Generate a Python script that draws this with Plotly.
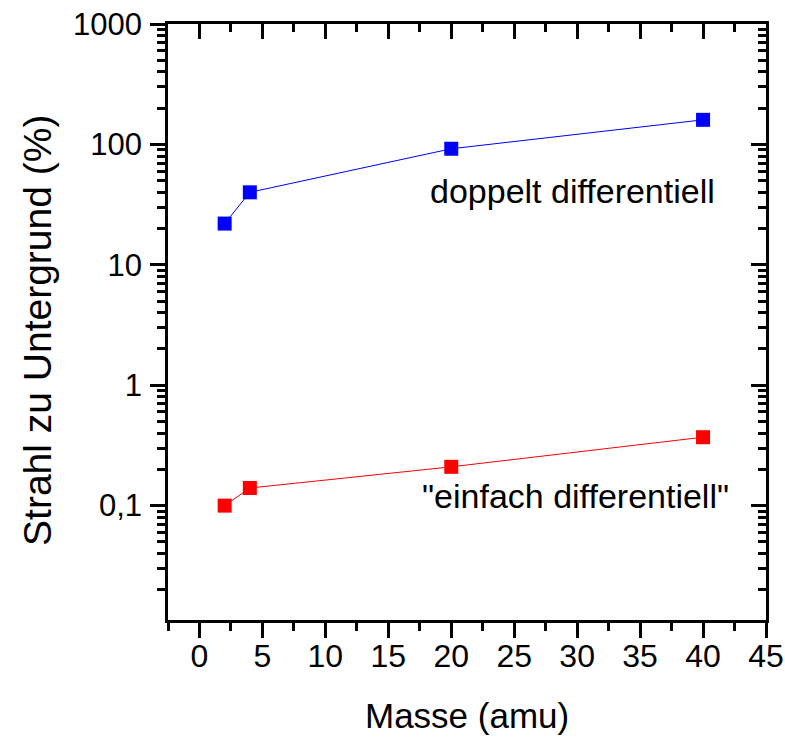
import plotly.graph_objects as go

# Beam-to-background ratio vs. mass
masse = [2, 4, 20, 40]
doppelt = [22, 40, 92, 160]          # doppelt differentiell (%)
einfach = [0.10, 0.14, 0.21, 0.37]   # "einfach differentiell" (%)

x_ticks = [0, 5, 10, 15, 20, 25, 30, 35, 40, 45]
y_ticks = [0.1, 1, 10, 100, 1000]
y_ticklabels = ["0,1", "1", "10", "100", "1000"]

FONT = "Liberation Sans, Arial, sans-serif"
X_RANGE = [-2.5, 45]
Y_RANGE = [-1.95, 3.0]  # log10 units

fig = go.Figure()

fig.add_trace(go.Scatter(
    x=masse, y=doppelt, mode="lines+markers",
    line=dict(color="#0000FF", width=1),
    marker=dict(symbol="square", size=14, color="#0000FF"),
    showlegend=False,
))
fig.add_trace(go.Scatter(
    x=masse, y=einfach, mode="lines+markers",
    line=dict(color="#FF0000", width=1),
    marker=dict(symbol="square", size=14, color="#FF0000"),
    showlegend=False,
))
# hidden trace that carries the mirrored top/right axes
fig.add_trace(go.Scatter(
    x=masse, y=doppelt, xaxis="x2", yaxis="y2", mode="markers",
    marker=dict(opacity=0), hoverinfo="skip", showlegend=False,
))

common_line = dict(showline=True, linecolor="black", linewidth=2.5,
                   showgrid=False, zeroline=False, tickcolor="black",
                   tickwidth=2.5, automargin=False)

fig.update_layout(
    width=785, height=737,
    margin=dict(l=168, r=19, t=24, b=117),
    plot_bgcolor="white", paper_bgcolor="white",
    font=dict(family=FONT, color="black"),
    xaxis=dict(
        range=X_RANGE, tickmode="array", tickvals=x_ticks,
        ticks="outside", ticklen=15, ticklabelstandoff=-9,
        minor=dict(dtick=2.5, tick0=0, ticks="outside", ticklen=8,
                   tickwidth=2.5, tickcolor="black", showgrid=False),
        tickfont=dict(size=32, family=FONT),
        **common_line,
    ),
    yaxis=dict(
        type="log", range=Y_RANGE, tickmode="array",
        tickvals=y_ticks, ticktext=y_ticklabels,
        ticks="outside", ticklen=15, ticklabelstandoff=2,
        minor=dict(dtick="D1", ticks="outside", ticklen=8,
                   tickwidth=2.5, tickcolor="black", showgrid=False),
        tickfont=dict(size=31, family=FONT),
        **common_line,
    ),
    xaxis2=dict(
        overlaying="x", side="top", anchor="y2", range=X_RANGE,
        tickmode="array", tickvals=x_ticks, showticklabels=False,
        ticks="inside", ticklen=15,
        minor=dict(dtick=2.5, tick0=0, ticks="inside", ticklen=8,
                   tickwidth=2.5, tickcolor="black", showgrid=False),
        **common_line,
    ),
    yaxis2=dict(
        overlaying="y", side="right", anchor="x2", type="log", range=Y_RANGE,
        tickmode="array", tickvals=y_ticks, showticklabels=False,
        ticks="inside", ticklen=15,
        minor=dict(dtick="D1", ticks="inside", ticklen=8,
                   tickwidth=2.5, tickcolor="black", showgrid=False),
        **common_line,
    ),
)

# axis titles
fig.add_annotation(text="Masse (amu)", xref="paper", yref="paper",
                   x=0.5, y=0, yshift=-95, xanchor="center", yanchor="middle",
                   showarrow=False, font=dict(size=35, family=FONT))
fig.add_annotation(text="Strahl zu Untergrund (%)", xref="paper", yref="paper",
                   x=0, y=0.485, xshift=-130, xanchor="center", yanchor="middle",
                   textangle=-90, showarrow=False, font=dict(size=39, family=FONT))

# series labels
fig.add_annotation(text="doppelt differentiell", x=29.6, y=1.614,
                   xanchor="center", yanchor="middle", showarrow=False,
                   font=dict(size=34, family=FONT))
fig.add_annotation(text="\"einfach differentiell\"", x=29.9, y=-0.917,
                   xanchor="center", yanchor="middle", showarrow=False,
                   font=dict(size=34, family=FONT))

fig.write_html("out.html")
